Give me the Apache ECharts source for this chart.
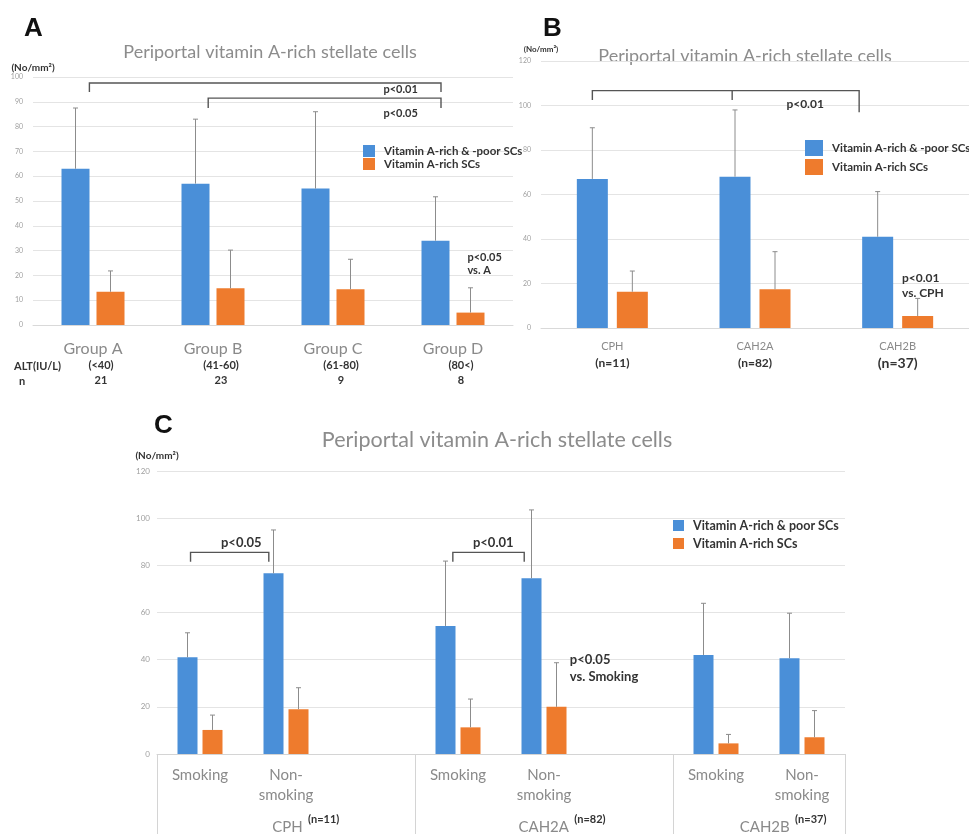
<!DOCTYPE html>
<html>
<head>
<meta charset="utf-8">
<script src="https://cdn.jsdelivr.net/npm/echarts@6/dist/echarts.min.js"></script>
<style>
  html, body { margin: 0; padding: 0; background: #fff; }
  #chart { width: 969px; height: 834px; }
</style>
</head>
<body>
<div id="chart"></div>
<script>
// ---- panel A: by ALT group ----
const groupsA = ['Group A', 'Group B', 'Group C', 'Group D'];
const altA = ['(<40)', '(41-60)', '(61-80)', '(80<)'];
const nA = ['21', '23', '9', '8'];
const allA = [63, 57, 55, 34];
const allTopA = [87.5, 83, 86, 51.7];
const richA = [13.4, 14.8, 14.4, 5];
const richTopA = [21.8, 30.2, 26.5, 15];

// ---- panel B: by diagnosis ----
const groupsB = ['CPH', 'CAH2A', 'CAH2B'];
const nB = ['(n=11)', '(n=82)', '(n=37)'];
const allB = [67, 68, 41];
const allTopB = [90, 98, 61.3];
const richB = [16.3, 17.4, 5.4];
const richTopB = [25.6, 34.3, 13.3];

// ---- panel C: diagnosis x smoking ----
const groupsC = ['CPH', 'CAH2A', 'CAH2B'];
const nC = ['(n=11)', '(n=82)', '(n=37)'];
const habitsC = ['Smoking', 'Non-\nsmoking'];
const allC = [[41, 76.6], [54.3, 74.5], [42, 40.6]];
const allTopC = [[51.4, 95], [81.8, 103.5], [63.9, 59.7]];
const richC = [[10.2, 19], [11.3, 20], [4.5, 7.1]];
const richTopC = [[16.5, 28.1], [23.3, 38.7], [8.3, 18.4]];

// significance brackets (x in category units from the left edge of the grid)
const bracketsA = [
  { x0: 0.47, x1: 3.4, y: 97.6, d0: 94, d1: 94, label: 'p<0.01', lx: 2.92, ly: 94.8, align: 'left', size: 11 },
  { x0: 1.46, x1: 3.4, y: 91.5, d0: 87.5, d1: 87.5, label: 'p<0.05', lx: 2.92, ly: 85.5, align: 'left', size: 11 }
];
const bracketsB = [
  { x0: 0.36, x1: 2.23, y: 106.7, d0: 102.5, d1: 97, mid: 1.34, dm: 102.5, label: 'p<0.01', lx: 1.72, ly: 100.7, align: 'left', size: 12 }
];
const bracketsC = [
  { x0: 0.39, x1: 1.30, y: 85.5, d0: 81.5, d1: 81.5, label: 'p<0.05', lx: 0.98, ly: 89.5, align: 'center', size: 13 },
  { x0: 3.44, x1: 4.27, y: 85.5, d0: 81.5, d1: 81.5, label: 'p<0.01', lx: 3.91, ly: 89.5, align: 'center', size: 13 }
];
const notesA = [{ x: 3.62, y: 29.8, lines: ['p<0.05', 'vs. A'], size: 11, lh: 13 }];
const notesB = [{ x: 2.53, y: 25.6, lines: ['p<0.01', 'vs. CPH'], size: 12, lh: 15 }];
const notesC = [{ x: 4.80, y: 43.7, lines: ['p<0.05', 'vs. Smoking'], size: 13, lh: 17 }];

const FONT = 'Lato, "Open Sans", sans-serif';
const BLUE = '#4a8fd8';
const ORANGE = '#ee7b2d';
const GREY_TXT = '#8a8a8a';
const NAME_ALL = 'Vitamin A-rich & -poor SCs';
const NAME_ALL_C = 'Vitamin A-rich & poor SCs';
const NAME_RICH = 'Vitamin A-rich SCs';

// C has 8 slots: S, NS, gap, S, NS, gap, S, NS
function slots(pairs) {
  const out = [];
  pairs.forEach((p, g) => {
    out.push(p[0], p[1]);
    if (g < pairs.length - 1) out.push(null);
  });
  return out;
}
const labelsC = slots(groupsC.map(() => habitsC)).map(v => v == null ? '' : v);
const catsC = labelsC.map((v, i) => 'c' + i);

function bars(name, axis, values, color, width, gap) {
  return {
    type: 'bar', name, xAxisIndex: axis, yAxisIndex: axis,
    data: values.map(v => v == null ? '-' : v),
    barWidth: width, barGap: gap,
    itemStyle: { color },
    z: 2
  };
}

function whiskers(axis, values, tops, shift) {
  const data = [];
  values.forEach((v, i) => { if (v != null) data.push([i, v, tops[i]]); });
  return {
    type: 'custom', xAxisIndex: axis, yAxisIndex: axis, z: 4, silent: true,
    data,
    renderItem(params, api) {
      const lo = api.coord([api.value(0), api.value(1)]);
      const hi = api.coord([api.value(0), api.value(2)]);
      const x = lo[0] + shift;
      const st = { stroke: '#8c8c8c', lineWidth: 1 };
      return {
        type: 'group', children: [
          { type: 'line', shape: { x1: x, y1: lo[1], x2: x, y2: hi[1] }, style: st },
          { type: 'line', shape: { x1: x - 2.5, y1: hi[1], x2: x + 2.5, y2: hi[1] }, style: st }
        ]
      };
    }
  };
}

function brackets(axis, list) {
  return {
    type: 'custom', xAxisIndex: axis, yAxisIndex: axis, z: 5, silent: true,
    data: list.map(b => [0, b.y]),
    renderItem(params, api) {
      const b = list[params.dataIndex];
      const bw = api.size([1, 0])[0];
      const x0 = api.coord([0, 0])[0] - bw / 2;
      const px = u => x0 + u * bw;
      const py = v => api.coord([0, v])[1];
      const st = { stroke: '#555', lineWidth: 1.4, fill: null };
      const kids = [{
        type: 'polyline', style: st,
        shape: { points: [[px(b.x0), py(b.d0)], [px(b.x0), py(b.y)], [px(b.x1), py(b.y)], [px(b.x1), py(b.d1)]] }
      }];
      if (b.mid != null) {
        kids.push({ type: 'line', style: st, shape: { x1: px(b.mid), y1: py(b.y), x2: px(b.mid), y2: py(b.dm) } });
      }
      kids.push({
        type: 'text', x: px(b.lx), y: py(b.ly),
        style: { text: b.label, fontSize: b.size, fontWeight: 'bold', fontFamily: FONT, fill: '#333', align: b.align, verticalAlign: 'middle' }
      });
      return { type: 'group', children: kids };
    }
  };
}

function notes(axis, list) {
  return {
    type: 'custom', xAxisIndex: axis, yAxisIndex: axis, z: 5, silent: true,
    data: list.map(n => [0, n.y]),
    renderItem(params, api) {
      const n = list[params.dataIndex];
      const bw = api.size([1, 0])[0];
      const x0 = api.coord([0, 0])[0] - bw / 2;
      return {
        type: 'text', x: x0 + n.x * bw, y: api.coord([0, n.y])[1],
        style: { text: n.lines.join('\n'), fontSize: n.size, lineHeight: n.lh, fontWeight: 'bold', fontFamily: FONT, fill: '#333', align: 'left', verticalAlign: 'top' }
      };
    }
  };
}

function yAxis(grid, max, interval, fs, margin, name) {
  return {
    type: 'value', gridIndex: grid, min: 0, max, interval,
    axisLine: { show: false }, axisTick: { show: false },
    axisLabel: { fontSize: fs, color: '#a0a0a0', margin, fontFamily: FONT },
    splitLine: { lineStyle: { color: '#e4e4e4' } },
    name: '(No/mm²)', nameLocation: 'end', nameGap: name.gap,
    nameTextStyle: { fontSize: name.size, fontWeight: 'bold', color: '#333', align: 'center', padding: name.pad, fontFamily: FONT }
  };
}

function legend(names, left, top, w, h, gap, fs) {
  return {
    data: names, orient: 'vertical', left, top, padding: 0,
    itemWidth: w, itemHeight: h, itemGap: gap, icon: 'rect', selectedMode: false,
    textStyle: { fontSize: fs, fontWeight: 'bold', color: '#333', fontFamily: FONT, padding: [0, 0, 0, 4] }
  };
}

const chart = echarts.init(document.getElementById('chart'));

const option = {
  animation: false,
  backgroundColor: '#fff',
  grid: [
    { left: 33, top: 77, width: 480, height: 248, outerBoundsMode: 'none' },
    { left: 541, top: 61, width: 428, height: 267, outerBoundsMode: 'none' },
    { left: 157, top: 471, width: 688, height: 283, outerBoundsMode: 'none' }
  ],
  legend: [
    legend([NAME_ALL, NAME_RICH], 363, 145, 12, 12, 1, 11.5),
    legend([NAME_ALL, NAME_RICH], 805, 140, 18, 16, 3, 11.5),
    legend([NAME_ALL_C, NAME_RICH], 673, 519, 11, 11, 5, 12.5)
  ],
  xAxis: [
    {
      type: 'category', gridIndex: 0, data: groupsA,
      axisLine: { lineStyle: { color: '#d9d9d9' } }, axisTick: { show: false },
      axisLabel: {
        interval: 0, margin: 15,
        formatter: (v, i) => `{g|${v}}\n{s|${altA[i]}}\n{s|${nA[i]}}`,
        rich: {
          g: { fontSize: 16, color: GREY_TXT, lineHeight: 18, fontFamily: FONT },
          s: { fontSize: 11, fontWeight: 'bold', color: '#333', lineHeight: 15, padding: [0, 0, 0, 16], fontFamily: FONT }
        }
      }
    },
    {
      type: 'category', gridIndex: 1, data: groupsB,
      axisLine: { lineStyle: { color: '#d9d9d9' } }, axisTick: { show: false },
      axisLabel: {
        interval: 0, margin: 10,
        formatter: (v, i) => `{g|${v}}\n{${i === 2 ? 'm' : 'n'}|${nB[i]}}`,
        rich: {
          g: { fontSize: 11, color: GREY_TXT, lineHeight: 17, fontFamily: FONT },
          n: { fontSize: 12, fontWeight: 'bold', color: '#333', lineHeight: 17, fontFamily: FONT },
          m: { fontSize: 14, fontWeight: 'bold', color: '#333', lineHeight: 17, fontFamily: FONT }
        }
      }
    },
    {
      type: 'category', gridIndex: 2, data: catsC,
      axisLine: { lineStyle: { color: '#d4d4d4' } }, axisTick: { show: false },
      axisLabel: {
        interval: 0, margin: 11, fontSize: 15, lineHeight: 20, color: GREY_TXT, fontFamily: FONT,
        formatter: (v, i) => labelsC[i]
      }
    },
    {
      // group row under panel C with separators
      type: 'value', gridIndex: 2, position: 'bottom', min: 0, max: 8,
      axisLine: { show: false }, splitLine: { show: false },
      axisTick: { show: true, customValues: [0, 3, 6, 8], length: 80, lineStyle: { color: '#d4d4d4' } },
      axisLabel: {
        customValues: [1.73, 4.71, 7.28], margin: 60,
        formatter: v => {
          const i = [1.73, 4.71, 7.28].indexOf(v);
          return `{g|${groupsC[i]}}{n|  ${nC[i]}}`;
        },
        rich: {
          g: { fontSize: 15, color: GREY_TXT, lineHeight: 26, fontFamily: FONT },
          n: { fontSize: 11, fontWeight: 'bold', color: '#333', verticalAlign: 'top', fontFamily: FONT }
        }
      }
    }
  ],
  yAxis: [
    yAxis(0, 100, 10, 7, 10, { gap: 4, size: 10, pad: [0, 0, 0, 0] }),
    yAxis(1, 120, 20, 7, 10, { gap: 8, size: 8, pad: [0, 0, 0, 0] }),
    yAxis(2, 120, 20, 8, 7, { gap: 10, size: 10, pad: [0, 0, 0, 0] })
  ],
  graphic: [
    { type: 'text', x: 24, y: 29, style: { text: 'A', fontSize: 26, fontWeight: 'bold', fontFamily: 'Liberation Sans', fill: '#111', verticalAlign: 'middle' } },
    { type: 'text', x: 543, y: 29, style: { text: 'B', fontSize: 26, fontWeight: 'bold', fontFamily: 'Liberation Sans', fill: '#111', verticalAlign: 'middle' } },
    { type: 'text', x: 154, y: 426, style: { text: 'C', fontSize: 26, fontWeight: 'bold', fontFamily: 'Liberation Sans', fill: '#111', verticalAlign: 'middle' } },
    { type: 'text', x: 270, y: 52, style: { text: 'Periportal vitamin A-rich stellate cells', fontSize: 18, fontFamily: FONT, fill: '#8c8c8c', align: 'center', verticalAlign: 'middle' } },
    { type: 'text', x: 745, y: 56, style: { text: 'Periportal vitamin A-rich stellate cells', fontSize: 18, fontFamily: FONT, fill: '#8c8c8c', align: 'center', verticalAlign: 'middle' } },
    { type: 'text', x: 497, y: 440, style: { text: 'Periportal vitamin A-rich stellate cells', fontSize: 21.5, fontFamily: FONT, fill: '#8c8c8c', align: 'center', verticalAlign: 'middle' } },
    { type: 'text', x: 14, y: 366, style: { text: 'ALT(IU/L)', fontSize: 11, fontWeight: 'bold', fontFamily: FONT, fill: '#333', verticalAlign: 'middle' } },
    { type: 'text', x: 19, y: 381, style: { text: 'n', fontSize: 11, fontWeight: 'bold', fontFamily: FONT, fill: '#333', verticalAlign: 'middle' } }
  ],
  series: [
    bars(NAME_ALL, 0, allA, BLUE, 28, '25%'),
    bars(NAME_RICH, 0, richA, ORANGE, 28, '25%'),
    whiskers(0, allA, allTopA, -17.5),
    whiskers(0, richA, richTopA, 17.5),
    brackets(0, bracketsA),
    notes(0, notesA),

    bars(NAME_ALL, 1, allB, BLUE, 31, '29%'),
    bars(NAME_RICH, 1, richB, ORANGE, 31, '29%'),
    whiskers(1, allB, allTopB, -20),
    whiskers(1, richB, richTopB, 20),
    brackets(1, bracketsB),
    notes(1, notesB),

    bars(NAME_ALL_C, 2, slots(allC), BLUE, 20, '25%'),
    bars(NAME_RICH, 2, slots(richC), ORANGE, 20, '25%'),
    whiskers(2, slots(allC), slots(allTopC), -12.5),
    whiskers(2, slots(richC), slots(richTopC), 12.5),
    brackets(2, bracketsC),
    notes(2, notesC)
  ]
};

chart.setOption(option);
window.addEventListener('resize', () => chart.resize());
</script>
</body>
</html>
